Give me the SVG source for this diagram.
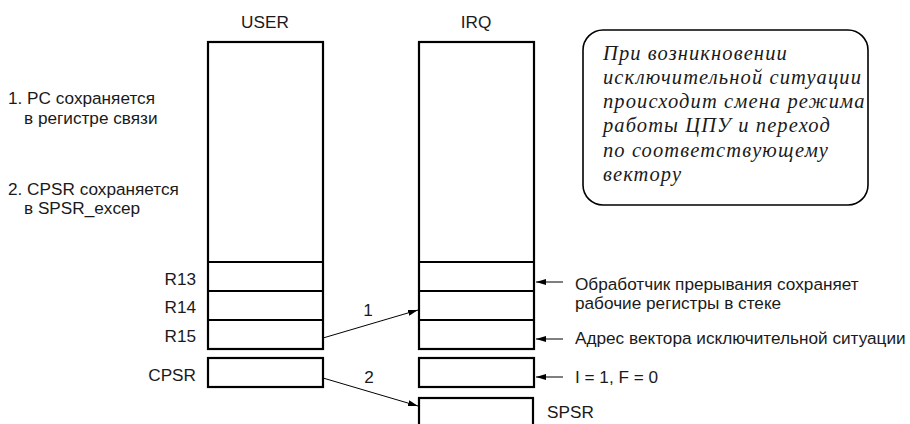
<svg xmlns="http://www.w3.org/2000/svg" width="910" height="424" viewBox="0 0 910 424">
<defs>
<marker id="ah" viewBox="0 0 10 6" refX="10" refY="3" markerWidth="10" markerHeight="6" markerUnits="userSpaceOnUse" orient="auto">
<path d="M0,0 L10,3 L0,6 z" fill="#000"/>
</marker>
<style>
.t{font-family:"Liberation Sans",Arial,sans-serif;font-size:17.2px;fill:#1a1a1a}
.box{fill:#fff;stroke:#000;stroke-width:2.2}
.ln{stroke:#000;stroke-width:2.2}
.c{stroke:#000;stroke-width:1;fill:none;marker-end:url(#ah)}
.it{font-family:"Liberation Serif","Times New Roman",serif;font-style:italic;font-size:20.5px;letter-spacing:1.1px;fill:#1a1a1a}
</style>
</defs>
<rect width="910" height="424" fill="#fff"/>
<g id="notes">
<text class="t" x="8" y="104">1. PC сохраняется</text>
<text class="t" x="24" y="124">в регистре связи</text>
<text class="t" x="8" y="195">2. CPSR сохраняется</text>
<text class="t" x="24" y="214">в SPSR_excep</text>
</g>
<g id="user">
<text class="t" x="265" y="28" text-anchor="middle">USER</text>
<rect class="box" x="208" y="42" width="115" height="307"/>
<line class="ln" x1="208" y1="262" x2="323" y2="262"/>
<line class="ln" x1="208" y1="291" x2="323" y2="291"/>
<line class="ln" x1="208" y1="320" x2="323" y2="320"/>
<text class="t" x="196" y="285" text-anchor="end">R13</text>
<text class="t" x="196" y="313" text-anchor="end">R14</text>
<text class="t" x="196" y="342" text-anchor="end">R15</text>
</g>
<g id="user-cpsr">
<rect class="box" x="208" y="358" width="115" height="29"/>
<text class="t" x="196" y="381" text-anchor="end">CPSR</text>
</g>
<g id="irq">
<text class="t" x="476" y="28" text-anchor="middle">IRQ</text>
<rect class="box" x="419" y="42" width="115" height="307"/>
<line class="ln" x1="419" y1="262" x2="534" y2="262"/>
<line class="ln" x1="419" y1="291" x2="534" y2="291"/>
<line class="ln" x1="419" y1="320" x2="534" y2="320"/>
</g>
<g id="irq-cpsr">
<rect class="box" x="419" y="358" width="115" height="29"/>
</g>
<g id="spsr">
<rect class="box" x="419" y="398" width="114" height="40"/>
<text class="t" x="547" y="418">SPSR</text>
</g>
<g id="note-box">
<rect x="583" y="30" width="285" height="175" rx="20" ry="20" fill="#fff" stroke="#000" stroke-width="1.6"/>
<text class="it" x="603" y="60">При возникновении</text>
<text class="it" x="603" y="84">исключительной ситуации</text>
<text class="it" x="603" y="108">происходит смена режима</text>
<text class="it" x="603" y="132">работы ЦПУ и переход</text>
<text class="it" x="603" y="157">по соответствующему</text>
<text class="it" x="603" y="181">вектору</text>
</g>
<g id="annotations">
<text class="t" x="575" y="290">Обработчик прерывания сохраняет</text>
<text class="t" x="575" y="309">рабочие регистры в стеке</text>
<text class="t" x="575" y="344">Адрес вектора исключительной ситуации</text>
<text class="t" x="575" y="383">I = 1, F = 0</text>
</g>
<g id="connectors">
<line class="c" x1="323" y1="338" x2="418" y2="310"/>
<line class="c" x1="323" y1="378" x2="418" y2="406"/>
<line class="c" x1="563" y1="282" x2="536" y2="282"/>
<line class="c" x1="563" y1="339" x2="536" y2="339"/>
<line class="c" x1="563" y1="377" x2="536" y2="377"/>
<text class="t" x="368" y="316" text-anchor="middle">1</text>
<text class="t" x="369" y="383" text-anchor="middle">2</text>
</g>
</svg>
